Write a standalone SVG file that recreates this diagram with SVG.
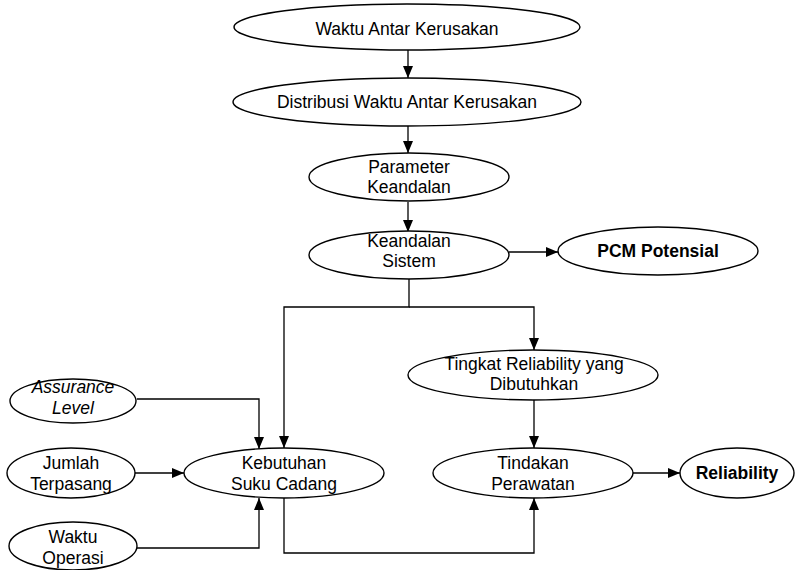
<svg xmlns="http://www.w3.org/2000/svg" width="797" height="570" viewBox="0 0 797 570">
<defs>
<marker id="ah" markerWidth="12" markerHeight="10" refX="12" refY="5" orient="auto" markerUnits="userSpaceOnUse">
<path d="M0,0 L12,5 L0,10 Z" fill="#000"/>
</marker>
<style>
.n ellipse{fill:#fff;stroke:#000;stroke-width:1.4}
.n text{font-family:"Liberation Sans",Arial,sans-serif;font-size:17.5px;fill:#000;text-anchor:middle}
.b text{font-weight:bold}
.i text{font-style:italic}
.c path{fill:none;stroke:#000;stroke-width:1.3;marker-end:url(#ah)}
</style>
</defs>
<rect width="797" height="570" fill="#fff"/>
<g id="connectors" class="c">
<path d="M408,50 V78"/>
<path d="M408,126 V153"/>
<path d="M408,202 V232"/>
<path d="M509,252 H558"/>
<path d="M409,278 V307 H284 V448"/>
<path d="M409,307 H534 V350"/>
<path d="M534,400 V448"/>
<path d="M633,473 H680"/>
<path d="M137,399 H259 V449"/>
<path d="M135,473 H184"/>
<path d="M137,548 H259 V498"/>
<path d="M284,498 V553 H534 V498"/>
</g>
<g id="n1" class="n"><ellipse cx="407" cy="27" rx="173" ry="23"/><text x="407" y="35">Waktu Antar Kerusakan</text></g>
<g id="n2" class="n"><ellipse cx="407" cy="102" rx="174" ry="24"/><text x="407" y="108">Distribusi Waktu Antar Kerusakan</text></g>
<g id="n3" class="n"><ellipse cx="409" cy="177" rx="100" ry="24"/><text x="409" y="173">Parameter</text><text x="409" y="193">Keandalan</text></g>
<g id="n4" class="n"><ellipse cx="409" cy="255" rx="100" ry="24"/><text x="409" y="247">Keandalan</text><text x="409" y="267">Sistem</text></g>
<g id="n5" class="n b"><ellipse cx="658" cy="251" rx="100" ry="24"/><text x="658" y="257">PCM Potensial</text></g>
<g id="n6" class="n"><ellipse cx="533" cy="375" rx="125" ry="25"/><text x="534" y="370">Tingkat Reliability yang</text><text x="534" y="390">Dibutuhkan</text></g>
<g id="n7" class="n"><ellipse cx="533" cy="473" rx="100" ry="25"/><text x="533" y="469">Tindakan</text><text x="533" y="490">Perawatan</text></g>
<g id="n8" class="n b"><ellipse cx="737" cy="473" rx="57" ry="25"/><text x="737" y="479">Reliability</text></g>
<g id="n9" class="n"><ellipse cx="284" cy="473" rx="100" ry="25"/><text x="284" y="469">Kebutuhan</text><text x="284" y="490">Suku Cadang</text></g>
<g id="n10" class="n i"><ellipse cx="73" cy="401" rx="63" ry="22"/><text x="73" y="393">Assurance</text><text x="73" y="414">Level</text></g>
<g id="n11" class="n"><ellipse cx="71" cy="473" rx="64" ry="25"/><text x="71" y="469">Jumlah</text><text x="71" y="490">Terpasang</text></g>
<g id="n12" class="n"><ellipse cx="73" cy="546" rx="64" ry="24"/><text x="73" y="543">Waktu</text><text x="73" y="564">Operasi</text></g>
</svg>
